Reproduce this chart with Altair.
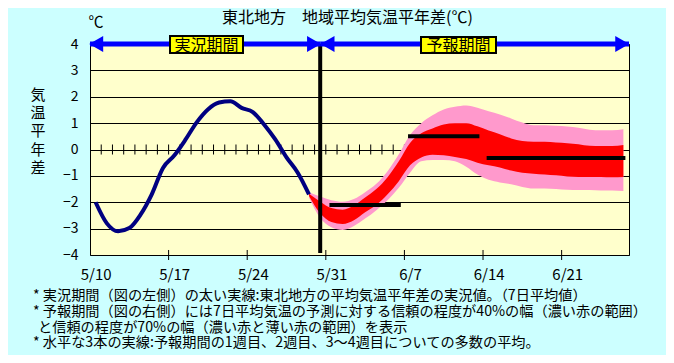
import altair as alt
import pandas as pd

# ---------------- data ----------------
DATES = ["5/10", "5/11", "5/12", "5/13", "5/14", "5/15", "5/16", "5/17", "5/18", "5/19",
         "5/20", "5/21", "5/22", "5/23", "5/24", "5/25", "5/26", "5/27", "5/28", "5/29",
         "5/30", "5/31", "6/1", "6/2", "6/3", "6/4", "6/5", "6/6", "6/7", "6/8",
         "6/9", "6/10", "6/11", "6/12", "6/13", "6/14", "6/15", "6/16", "6/17", "6/18",
         "6/19", "6/20", "6/21", "6/22", "6/23", "6/24", "6/25", "6/26"]

TICK_LABELS = ["5/10", "5/17", "5/24", "5/31", "6/7", "6/14", "6/21"]
Y_TICKS = [-4, -3, -2, -1, 0, 1, 2, 3, 4]

# observed 7-day mean anomaly (5/10 - 5/29)
OBS_DATES = DATES[0:20]
OBS_VALUES = [-2.00, -2.80, -3.10, -2.98, -2.47, -1.70, -0.70, -0.23, 0.37, 1.03,
              1.52, 1.78, 1.83, 1.58, 1.42, 0.95, 0.38, -0.30, -0.88, -1.70]

# forecast ranges (5/29 - 6/26)
FC_DATES = DATES[19:48]
PINK_LO = [-1.82, -2.60, -2.95, -3.05, -2.90, -2.62, -2.30, -1.92, -1.45, -0.88,
           -0.45, -0.40, -0.40, -0.45, -0.65, -0.95, -1.15, -1.25, -1.32, -1.42,
           -1.48, -1.48, -1.50, -1.53, -1.54, -1.54, -1.55, -1.55, -1.57]
RED_LO = [-1.76, -2.42, -2.75, -2.82, -2.68, -2.38, -2.10, -1.70, -1.20, -0.60,
          -0.30, -0.20, -0.22, -0.28, -0.36, -0.50, -0.60, -0.68, -0.80, -0.88,
          -0.92, -0.95, -0.98, -1.02, -1.04, -1.04, -1.04, -1.05, -1.04]
RED_HI = [-1.68, -1.98, -2.22, -2.28, -2.12, -1.82, -1.50, -1.05, -0.45, 0.25,
          0.62, 0.80, 0.95, 1.00, 1.00, 0.88, 0.72, 0.58, 0.42, 0.32,
          0.29, 0.29, 0.27, 0.24, 0.20, 0.14, 0.13, 0.13, 0.17]
PINK_HI = [-1.62, -1.78, -1.92, -1.98, -1.88, -1.62, -1.30, -0.82, -0.18, 0.55,
           1.00, 1.30, 1.52, 1.62, 1.67, 1.58, 1.45, 1.33, 1.18, 1.02,
           0.92, 0.92, 0.90, 0.87, 0.82, 0.75, 0.73, 0.73, 0.77]

# ensemble means: week 1, week 2, weeks 3-4
MEAN_START = ["5/31", "6/7", "6/14"]
MEAN_END = ["6/6", "6/13", "6/26"]
MEAN_VALUES = [-2.10, 0.50, -0.32]

DIVIDER_DATE = "5/30"

TITLE = "東北地方　地域平均気温平年差(℃)"
Y_TITLE = ["気", "温", "平", "年", "差"]
NOTES = [
    "* 実況期間（図の左側）の太い実線:東北地方の平均気温平年差の実況値。（7日平均値）",
    "* 予報期間（図の右側）には7日平均気温の予測に対する信頼の程度が40%の幅（濃い赤の範囲）",
    "と信頼の程度が70%の幅（濃い赤と薄い赤の範囲）を表示",
    "* 水平な3本の実線:予報期間の1週目、2週目、3～4週目についての多数の平均。",
]

# ---------------- helpers ----------------
FONT = "Noto Sans CJK JP"
N = len(DATES)


def cpos(d):
    """centre of the category for a date (categories are one unit wide)"""
    return DATES.index(d) + 0.5


xs = alt.Scale(domain=[0, N], nice=False, zero=False)
ys = alt.Scale(domain=[-4, 4], nice=False, zero=False)

tick_label_pos = [cpos(t) for t in TICK_LABELS]
expr = "''"
for p, t in reversed(list(zip(tick_label_pos, TICK_LABELS))):
    expr = f"abs(datum.value - {p}) < 0.01 ? '{t}' : ({expr})"

x_axis = alt.Axis(values=tick_label_pos, labelExpr=expr, ticks=False, tickSize=0,
                  domain=False, grid=False, labelFont=FONT, labelFontSize=15,
                  labelColor="black", labelPadding=12, title=None)
y_axis = alt.Axis(values=Y_TICKS, grid=True, gridColor="black", gridOpacity=1,
                  gridWidth=1, ticks=False, tickSize=0, domain=False, labelFont=FONT,
                  labelFontSize=14, labelColor="black", labelPadding=12, title=None,
                  format="d")


def X(f):
    return alt.X(f, scale=xs, axis=x_axis)


def Y(f):
    return alt.Y(f, scale=ys, axis=y_axis)


# daily ticks on the zero line (category boundaries)
zt = pd.DataFrame({"pos": list(range(1, N)), "lo": -0.19, "hi": 0.19})
zero_ticks = alt.Chart(zt).mark_rule(color="black", strokeWidth=1).encode(
    x=X("pos:Q"), y=Y("lo:Q"), y2="hi:Q")

# weekly ticks on bottom axis
bt = pd.DataFrame({"pos": [DATES.index(t) for t in TICK_LABELS[1:]], "lo": -4.19, "hi": -3.81})
bottom_ticks = alt.Chart(bt).mark_rule(color="black", strokeWidth=1).encode(
    x=X("pos:Q"), y=Y("lo:Q"), y2="hi:Q")

fc = pd.DataFrame({"pos": [cpos(d) for d in FC_DATES], "plo": PINK_LO, "phi": PINK_HI,
                   "rlo": RED_LO, "rhi": RED_HI})
pink = alt.Chart(fc).mark_area(color="#FF99CC", opacity=1, interpolate="monotone").encode(
    x=X("pos:Q"), y=Y("plo:Q"), y2="phi:Q")
red = alt.Chart(fc).mark_area(color="#FF0000", opacity=1, interpolate="monotone").encode(
    x=X("pos:Q"), y=Y("rlo:Q"), y2="rhi:Q")

obs = pd.DataFrame({"pos": [cpos(d) for d in OBS_DATES], "v": OBS_VALUES})
obs_line = alt.Chart(obs).mark_line(color="#000080", strokeWidth=4,
                                    interpolate="monotone").encode(
    x=X("pos:Q"), y=Y("v:Q"))

mn = pd.DataFrame({"s": [cpos(d) for d in MEAN_START], "e": [cpos(d) for d in MEAN_END],
                   "v": MEAN_VALUES})
means = alt.Chart(mn).mark_rule(color="black", strokeWidth=4, strokeCap="square").encode(
    x=X("s:Q"), x2="e:Q", y=Y("v:Q"))

dv = pd.DataFrame({"pos": [cpos(DIVIDER_DATE)], "lo": [-3.92], "hi": [4.0]})
divider = alt.Chart(dv).mark_rule(color="black", strokeWidth=4).encode(
    x=X("pos:Q"), y=Y("lo:Q"), y2="hi:Q")

# period arrows along the top
dpos = cpos(DIVIDER_DATE)
ar = pd.DataFrame({"s": [0, dpos], "e": [dpos, N], "v": [4, 4]})
arrows = alt.Chart(ar).mark_rule(color="#0000FF", strokeWidth=5).encode(
    x=X("s:Q"), x2="e:Q", y=Y("v:Q"))
ah = pd.DataFrame({"pos": [0.55, dpos - 0.55, dpos + 0.65, N - 0.6],
                   "v": [4, 4, 4, 4],
                   "shape": ["triangle-left", "triangle-right", "triangle-left", "triangle-right"]})
heads = alt.Chart(ah).mark_point(filled=True, opacity=1, color="#0000FF", size=260).encode(
    x=X("pos:Q"), y=Y("v:Q"), shape=alt.Shape("shape:N", scale=None))

OX, OY = 90, 44  # plot origin on the page


def box(x0, x1, y0, y1):
    return alt.Chart(pd.DataFrame({"a": [0]})).mark_rect(
        fill="#FFFF00", stroke="black", strokeWidth=2).encode(
        x=alt.value(x0 - OX), x2=alt.value(x1 - OX),
        y=alt.value(y0 - OY), y2=alt.value(y1 - OY))


def text(t, px, py, size, align="center", baseline="middle", line_height=None):
    kw = {}
    if line_height is not None:
        kw["lineHeight"] = line_height
    return alt.Chart(pd.DataFrame({"a": [0]})).mark_text(
        font=FONT, fontSize=size, color="black", align=align, baseline=baseline, **kw
    ).encode(x=alt.value(px - OX), y=alt.value(py - OY), text=alt.value(t))


annotations = [
    box(170, 243, 36, 53),
    text("実況期間", 206.5, 45.5, 16),
    box(421, 496, 37, 53),
    text("予報期間", 458.5, 46, 16),
    text(TITLE, 347.5, 18, 16),
    text("℃", 96, 22, 15),
    text(Y_TITLE, 38, 88, 15, baseline="top", line_height=18.2),
    text(NOTES[0], 33, 295.5, 14.2, align="left"),
    text(NOTES[1], 33, 311.5, 14.2, align="left"),
    text(NOTES[2], 38, 327.5, 14.2, align="left"),
    text(NOTES[3], 33, 343, 14.2, align="left"),
]

chart = alt.layer(
    zero_ticks, bottom_ticks, pink, red, obs_line, means, divider, arrows, heads,
    *annotations
).properties(
    width=539, height=211, background="#CCFFFF",
    padding={"left": 82, "top": 36, "right": 37, "bottom": 100},
    autosize=alt.AutoSizeParams(type="none"),
).configure_view(fill="#FFFFCC", stroke="black", strokeWidth=1)

chart.save("out.html", embed_options={"renderer": "svg", "actions": False})
